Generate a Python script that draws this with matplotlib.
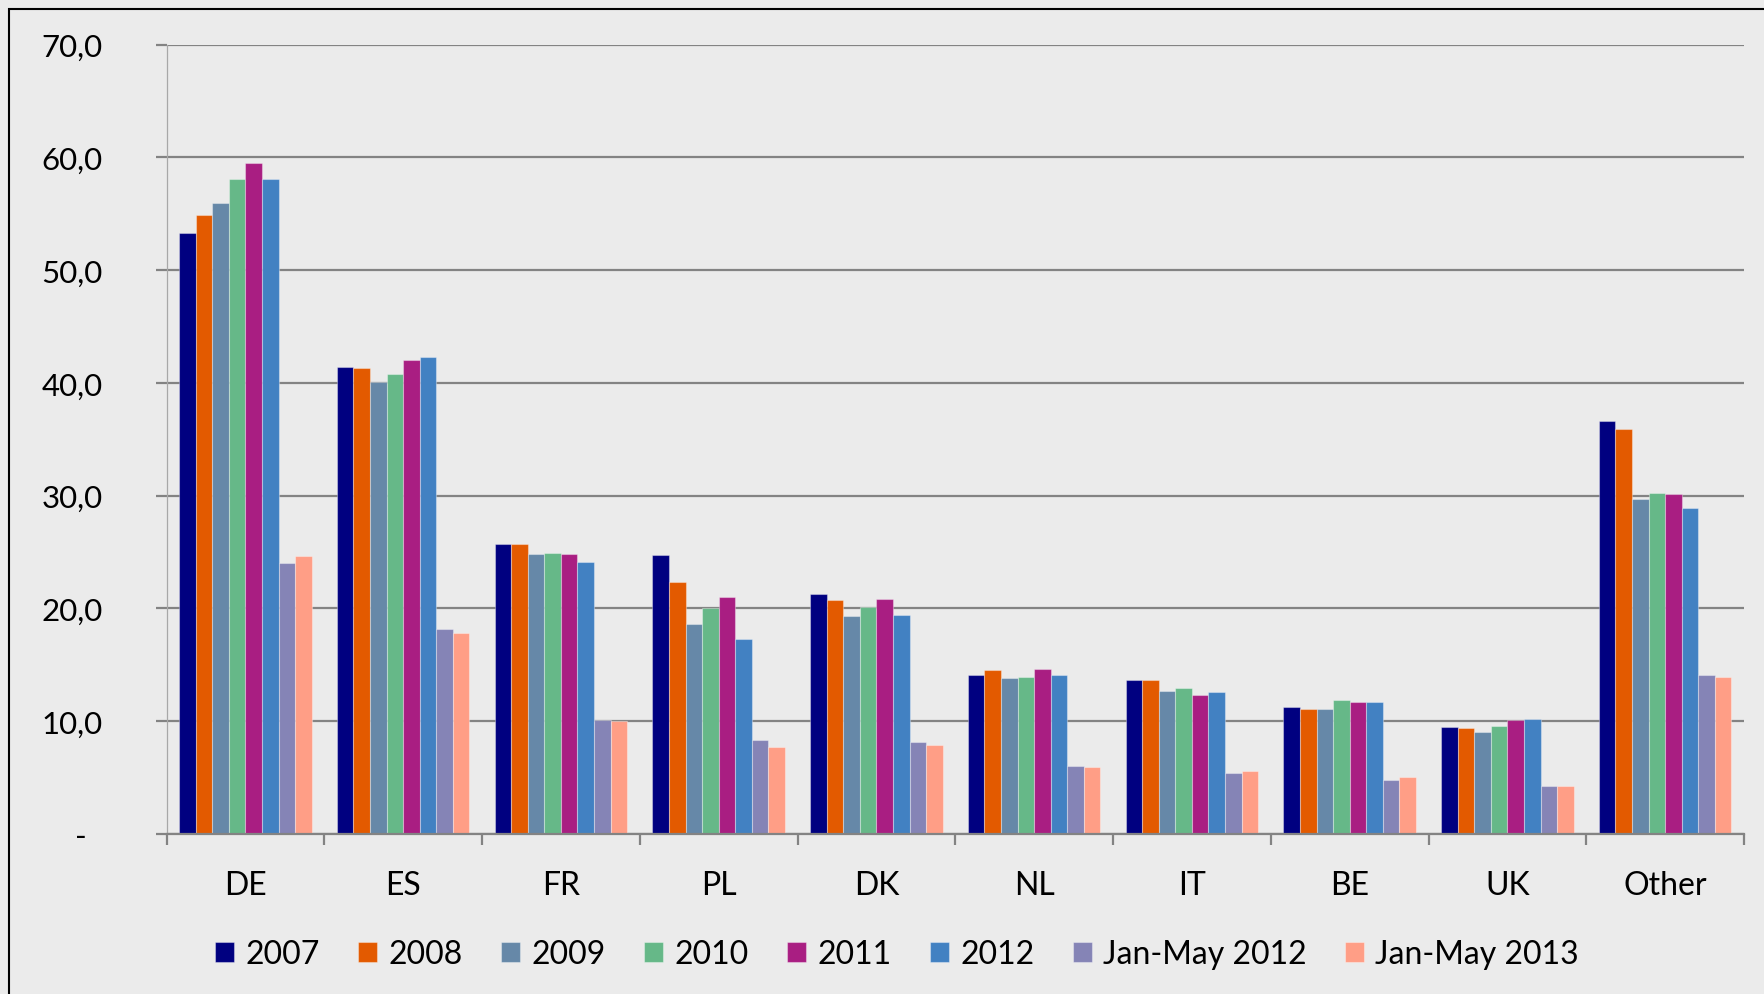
import matplotlib.pyplot as plt
from matplotlib.patches import Rectangle
from matplotlib.ticker import FixedLocator
import numpy as np

plt.rcParams['font.family'] = ['Lato', 'DejaVu Sans']

## donnees
countries = ["DE", "ES", "FR", "PL", "DK", "NL", "IT", "BE", "UK", "Other"]
series_names = ["2007", "2008", "2009", "2010", "2011", "2012", "Jan-May 2012", "Jan-May 2013"]

v2007 = [53.3, 41.4, 25.7, 24.7, 21.3, 14.1, 13.6, 11.2, 9.5, 36.6]
v2008 = [54.9, 41.3, 25.7, 22.3, 20.7, 14.5, 13.6, 11.1, 9.4, 35.9]
v2009 = [56.0, 40.1, 24.8, 18.6, 19.3, 13.8, 12.7, 11.1, 9.0, 29.7]
v2010 = [58.1, 40.8, 24.9, 20.0, 20.1, 13.9, 12.9, 11.9, 9.6, 30.2]
v2011 = [59.5, 42.0, 24.8, 21.0, 20.8, 14.6, 12.3, 11.7, 10.1, 30.1]
v2012 = [58.1, 42.3, 24.1, 17.3, 19.4, 14.1, 12.6, 11.7, 10.2, 28.9]
jm2012 = [24.0, 18.2, 10.1, 8.3, 8.1, 6.0, 5.4, 4.8, 4.2, 14.1]
jm2013 = [24.6, 17.8, 10.0, 7.7, 7.9, 5.9, 5.6, 5.0, 4.2, 13.9]

yticks = [0, 10, 20, 30, 40, 50, 60, 70]
ytick_labels = ["-  ", "10,0", "20,0", "30,0", "40,0", "50,0", "60,0", "70,0"]

couleurs = ["#000080", "#E35A00", "#6688A8", "#66B888",
            "#A91E82", "#4281C2", "#8584B6", "#FF9E86"]

series = [v2007, v2008, v2009, v2010, v2011, v2012, jm2012, jm2013]

## figure
fond = "#EBEBEB"
gris = "#838383"

fig = plt.figure(figsize=(17.64, 9.95), dpi=100, facecolor=fond)
ax = fig.add_axes([0.0944, 0.1611, 0.8943, 0.7929])
ax.set_facecolor(fond)

x = np.arange(len(countries))
largeur = 0.105
for i in range(len(series)):
    pos = x - 0.42 + largeur * (i + 0.5)
    ax.bar(pos, series[i], width=largeur, color=couleurs[i],
           edgecolor=(1, 1, 1, 0.35), linewidth=0.8, label=series_names[i], zorder=3)

ax.set_xlim(-0.5, len(countries) - 0.5)
ax.set_ylim(0, 70)

# grille
ax.set_yticks(yticks)
ax.set_yticklabels(ytick_labels, fontsize=22.5)
ax.yaxis.grid(True, color=gris, linewidth=1.6, zorder=1)
ax.tick_params(axis='y', length=8, width=1.6, color=gris, pad=38)

ax.set_xticks(x)
ax.set_xticklabels(countries, fontsize=23)
ax.xaxis.set_minor_locator(FixedLocator(np.arange(-0.5, len(countries), 1.0)))
ax.tick_params(axis='x', which='major', length=0, pad=26)
ax.tick_params(axis='x', which='minor', length=8, width=1.6, color=gris)

for s in ["top", "right"]:
    ax.spines[s].set_visible(False)
ax.spines["left"].set_color("#A8A8A8")
ax.spines["left"].set_linewidth(0.9)
ax.spines["bottom"].set_color(gris)
ax.spines["bottom"].set_linewidth(1.6)
ax.spines["bottom"].set_zorder(4)

# legende
fig.legend(loc='center', bbox_to_anchor=(0.5085, 0.040), ncol=8, frameon=False,
           fontsize=23, handlelength=0.6, handleheight=0.6, handletextpad=0.35,
           columnspacing=1.2)

# cadre
fig.add_artist(Rectangle((9 / 1764, -0.1), 1.2, (995 - 10) / 995 + 0.1,
                         transform=fig.transFigure, fill=False,
                         edgecolor="black", linewidth=1.5))

fig.savefig("out.png", dpi=100, facecolor=fond)
